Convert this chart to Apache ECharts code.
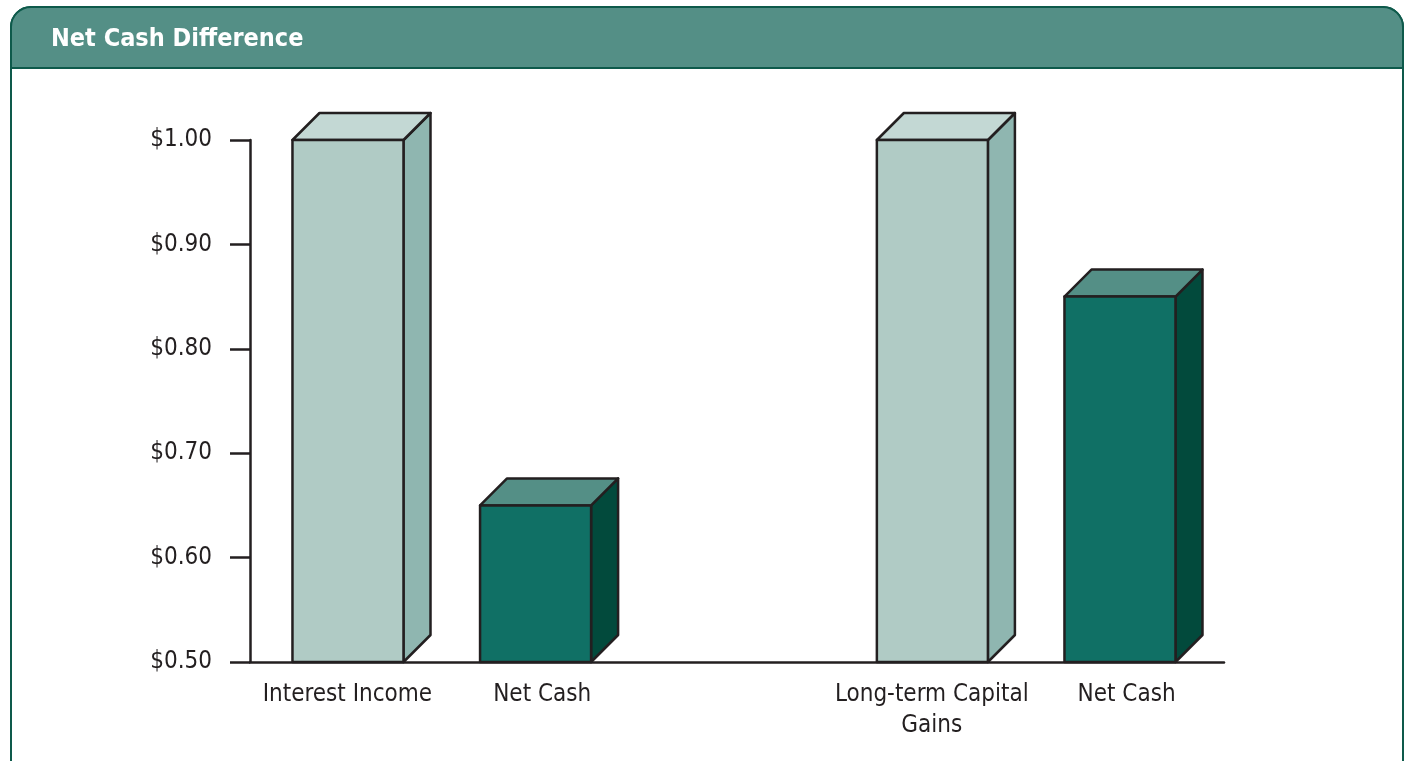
<!DOCTYPE html>
<html>
<head>
<meta charset="utf-8">
<title>Net Cash Difference</title>
<script src="https://cdn.jsdelivr.net/npm/echarts@6/dist/echarts.min.js"></script>
<style>
html, body { margin: 0; padding: 0; background: #fff; }
#chart { width: 1408px; height: 761px; }
</style>
</head>
<body>
<div id="chart"></div>
<script>
// categories (the empty one is the gap between the two groups)
var categories = ['Interest Income', 'Net Cash', '', 'Long-term Capital\nGains', 'Net Cash'];
var grossValues = [1.00, null, null, 1.00, null];
var netValues = [null, 0.65, null, null, 0.85];
var yTicks = [0.50, 0.60, 0.70, 0.80, 0.90, 1.00];

var FONT = "'Liberation Sans Narrow', 'DejaVu Sans Condensed', sans-serif";
var INK = '#231f20';

// front, top, side colours of the boxes
var lightBox = ['#b0cbc5', '#c3d8d4', '#8fb6b0'];
var darkBox = ['#107065', '#548f86', '#024a3c'];

// shift is a fraction of the category band, to sit the boxes like the original
function boxRenderer(colors, shift) {
    return function (params, api) {
        var v = api.value(1);
        if (v == null || isNaN(v)) return;
        var band = api.size([1, 0])[0];
        var top = api.coord([api.value(0), v]);
        var base = api.coord([api.value(0), yTicks[0]]);
        var bw = band * 0.57;
        var d = 27;
        var cx = top[0] + band * shift;
        var l = cx - bw / 2, r = cx + bw / 2;
        var t = top[1], b = base[1];
        var line = { stroke: INK, lineWidth: 2.5, lineJoin: 'round' };
        return {
            type: 'group',
            children: [
                {
                    type: 'polygon',
                    shape: { points: [[r, t], [r + d, t - d], [r + d, b - d], [r, b]] },
                    style: Object.assign({ fill: colors[2] }, line)
                },
                {
                    type: 'polygon',
                    shape: { points: [[l, t], [l + d, t - d], [r + d, t - d], [r, t]] },
                    style: Object.assign({ fill: colors[1] }, line)
                },
                {
                    type: 'rect',
                    shape: { x: l, y: t, width: bw, height: b - t },
                    style: Object.assign({ fill: colors[0] }, line)
                }
            ]
        };
    };
}

var myChart = echarts.init(document.getElementById('chart'));
var option = {
    animation: false,
    title: {
        text: 'Net Cash Difference',
        left: 46,
        top: 22,
        textStyle: {
            color: '#fff',
            fontFamily: FONT,
            fontWeight: 'bold',
            fontSize: 25
        }
    },
    graphic: [
        {
            type: 'rect',
            z: -10,
            silent: true,
            shape: { x: 11, y: 7, width: 1392, height: 820, r: [20, 20, 0, 0] },
            style: { fill: '#fff', stroke: '#0e5a4b', lineWidth: 2 }
        },
        {
            type: 'rect',
            z: -9,
            silent: true,
            shape: { x: 11, y: 7, width: 1392, height: 61, r: [20, 20, 0, 0] },
            style: { fill: '#548f86', stroke: '#0e5a4b', lineWidth: 2 }
        }
    ],
    grid: {
        left: 250,
        right: 184,
        top: 140,
        bottom: 99
    },
    xAxis: {
        type: 'category',
        data: categories,
        boundaryGap: true,
        axisLine: { lineStyle: { color: INK, width: 2.5 } },
        axisTick: { show: false },
        axisLabel: {
            interval: 0,
            color: INK,
            fontFamily: FONT,
            fontSize: 24,
            lineHeight: 31,
            margin: 17
        }
    },
    yAxis: {
        type: 'value',
        min: 0.5,
        max: 1.0,
        interval: 0.1,
        splitLine: { show: false },
        axisLine: { show: true, lineStyle: { color: INK, width: 2.5 } },
        axisTick: { show: true, length: 20, lineStyle: { color: INK, width: 2.5 } },
        axisLabel: {
            color: INK,
            fontFamily: FONT,
            fontSize: 24,
            margin: 38,
            formatter: function (v) { return '$' + v.toFixed(2); }
        }
    },
    series: [
        {
            name: 'Income',
            type: 'custom',
            renderItem: boxRenderer(lightBox, 0.003),
            clip: false,
            data: grossValues.map(function (v, i) { return [i, v]; })
        },
        {
            name: 'Net Cash',
            type: 'custom',
            renderItem: boxRenderer(darkBox, -0.034),
            clip: false,
            data: netValues.map(function (v, i) { return [i, v]; })
        }
    ]
};
myChart.setOption(option, true);
</script>
</body>
</html>
